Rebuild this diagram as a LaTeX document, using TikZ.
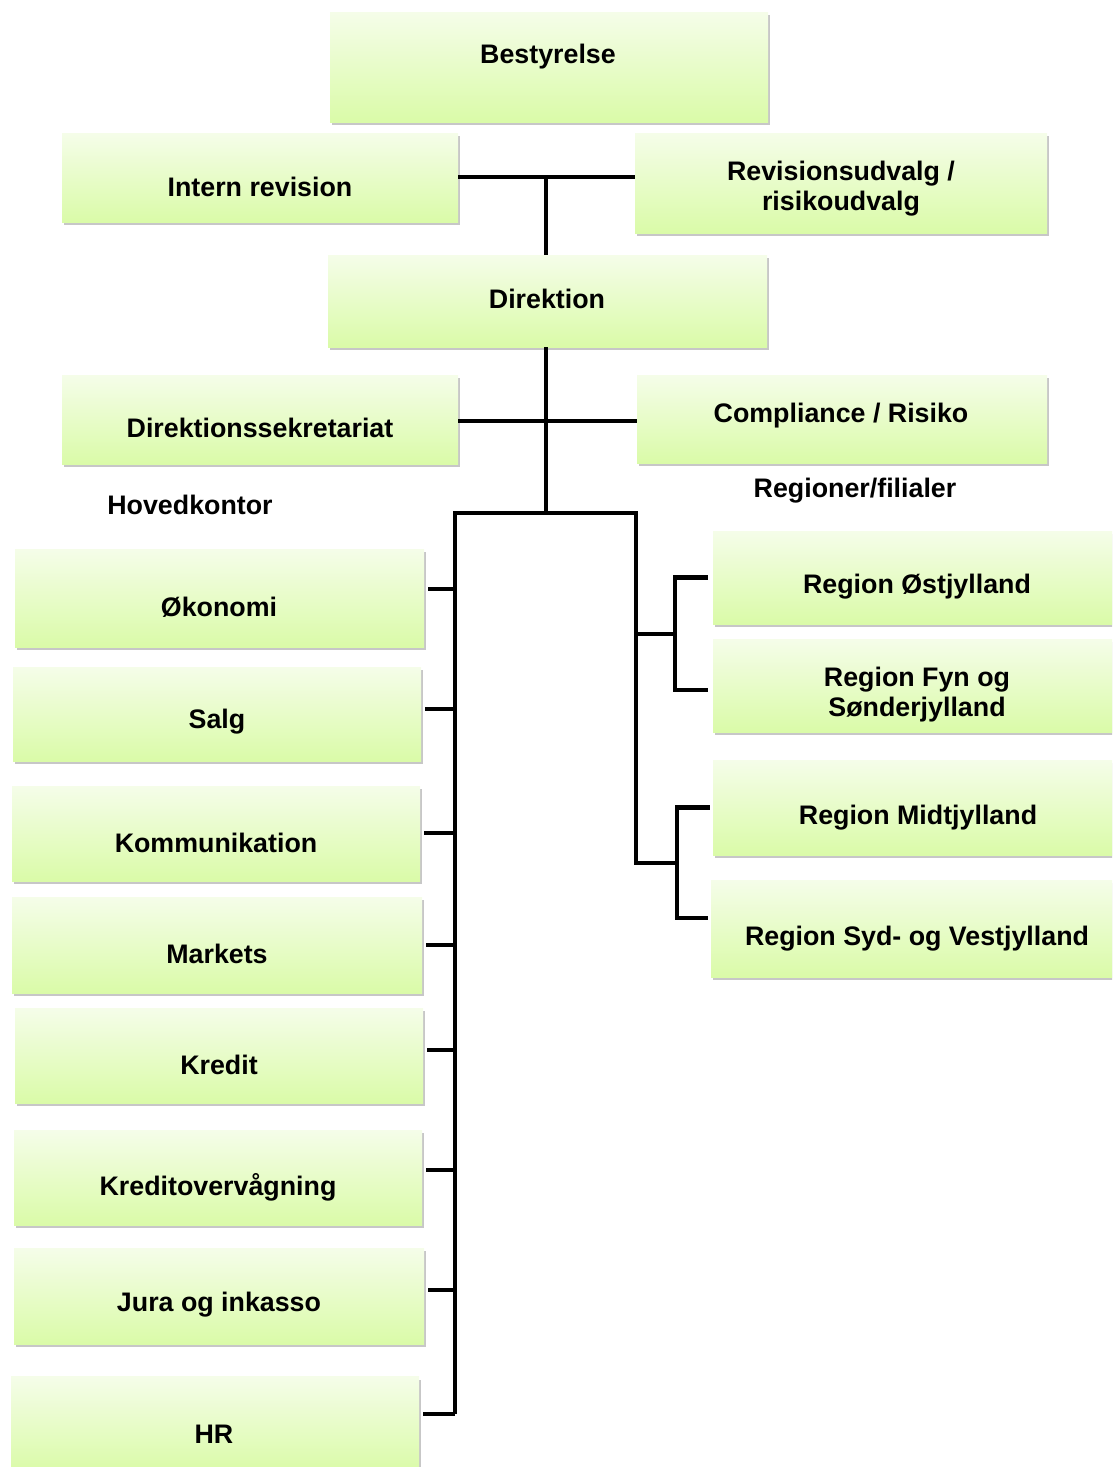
\documentclass[tikz,border=0pt]{standalone}
\usepackage{fontspec}
\setmainfont{Liberation Sans}
\usetikzlibrary{shadows}
\definecolor{boxtop}{RGB}{245,253,233}
\definecolor{boxbot}{RGB}{218,251,168}
\begin{document}
\begin{tikzpicture}[
      x=1pt, y=-1pt,
      box/.style={rectangle, draw=none, top color=boxtop, bottom color=boxbot,
        drop shadow={shadow xshift=2pt, shadow yshift=-3pt, fill=black, opacity=.22}},
      txt/.style={font=\fontsize{26.8}{30}\selectfont\bfseries, align=center, inner sep=0pt, yshift=-1pt},
      conn/.style={line width=4.5pt}]
        \useasboundingbox (0,0) rectangle (1112,1467);
        \clip (0,0) rectangle (1112,1467);

        % top
        \node[box, minimum width=438, minimum height=110] (bestyrelse) at (549,67) {};
        \node[box, minimum width=396, minimum height=89] (intern) at (260,177.5) {};
        \node[box, minimum width=412, minimum height=100] (revision) at (841,183) {};
        \node[box, minimum width=439, minimum height=92] (direktion) at (547.5,301) {};
        \node[box, minimum width=396, minimum height=89] (sekretariat) at (260,419.5) {};
        \node[box, minimum width=410, minimum height=88] (compliance) at (842,419) {};

        \node[txt] (bestyrelse-t) at (548,56) {Bestyrelse};
        \node[txt] (intern-t) at (260,186) {Intern revision};
        \node[txt] (revision-t) at (841,188) {Revisionsudvalg /\\risikoudvalg};
        \node[txt] (direktion-t) at (547,298) {Direktion};
        \node[txt] (sekretariat-t) at (260,427) {Direktionssekretariat};
        \node[txt] (compliance-t) at (841,415) {Compliance / Risiko};

        \node[txt] (hovedkontor) at (190,504) {Hovedkontor};
        \node[txt] (regioner) at (855,490) {Regioner/filialer};

        % hovedkontor
        \node[box, minimum width=409, minimum height=98] (okonomi) at (219.5,598) {};
        \node[box, minimum width=408, minimum height=94] (salg) at (217,714) {};
        \node[box, minimum width=408, minimum height=95] (kommunikation) at (216,833.5) {};
        \node[box, minimum width=410, minimum height=96] (markets) at (217,945) {};
        \node[box, minimum width=408, minimum height=95] (kredit) at (219,1055.5) {};
        \node[box, minimum width=408, minimum height=95] (kreditov) at (218,1177.5) {};
        \node[box, minimum width=410, minimum height=96] (jura) at (219,1296) {};
        \node[box, minimum width=408, minimum height=95] (hr) at (215,1424) {};

        \node[txt] (okonomi-t) at (219,606) {Økonomi};
        \node[txt] (salg-t) at (217,721) {Salg};
        \node[txt] (kommunikation-t) at (216,842) {Kommunikation};
        \node[txt] (markets-t) at (217,953) {Markets};
        \node[txt] (kredit-t) at (219,1064) {Kredit};
        \node[txt] (kreditov-t) at (218,1186) {Kreditovervågning};
        \node[txt] (jura-t) at (219,1304) {Jura og inkasso};
        \node[txt] (hr-t) at (214,1433) {HR};

        % regioner
        \node[box, minimum width=407, minimum height=93] (ost) at (916.5,577.5) {};
        \node[box, minimum width=407, minimum height=93] (fyn) at (916.5,685.5) {};
        \node[box, minimum width=407, minimum height=95] (midt) at (916.5,807.5) {};
        \node[box, minimum width=409, minimum height=97] (syd) at (915.5,928.5) {};

        \node[txt] (ost-t) at (917,586) {Region Østjylland};
        \node[txt] (fyn-t) at (917,694) {Region Fyn og\\Sønderjylland};
        \node[txt] (midt-t) at (918,817) {Region Midtjylland};
        \node[txt] (syd-t) at (917,938) {Region Syd- og Vestjylland};

        % lines
        \coordinate (j1) at (546,177);
        \coordinate (busl) at (455,513);
        \coordinate (busr) at (636,513);
        \coordinate (r1) at (675,634);
        \coordinate (r2) at (677,863);

        \draw[conn] (intern.east |- j1) -- (revision.west |- j1);
        \draw[conn] (j1) -- (j1 |- direktion.north);
        \draw[conn] (direktion.south -| j1) -- (j1 |- busl);
        \draw[conn] (sekretariat.east |- 0,421) -- (compliance.west |- 0,421);

        \draw[conn] ([yshift=10pt]busl |- hr.east) -- (busl) -- (busr) -- (busr |- r2) -- (r2);
        \draw[conn] (busr |- r1) -- (r1);

        \foreach \n/\d in {okonomi/9, salg/5, kommunikation/0.5, markets/0,
                           kredit/5.5, kreditov/7.5, jura/6, hr/10}
          \draw[conn] ([xshift=4pt, yshift=\d pt]\n.east) -- ([yshift=\d pt]busl |- \n.east);

        \draw[conn] ([xshift=-5pt]ost.west) -| (r1) |- ([xshift=-5pt, yshift=-4.5pt]fyn.west);
        \draw[conn] ([xshift=-3pt]midt.west) -| (r2) |- ([xshift=-3pt, yshift=10.5pt]syd.west);

      \end{tikzpicture}
\end{document}
